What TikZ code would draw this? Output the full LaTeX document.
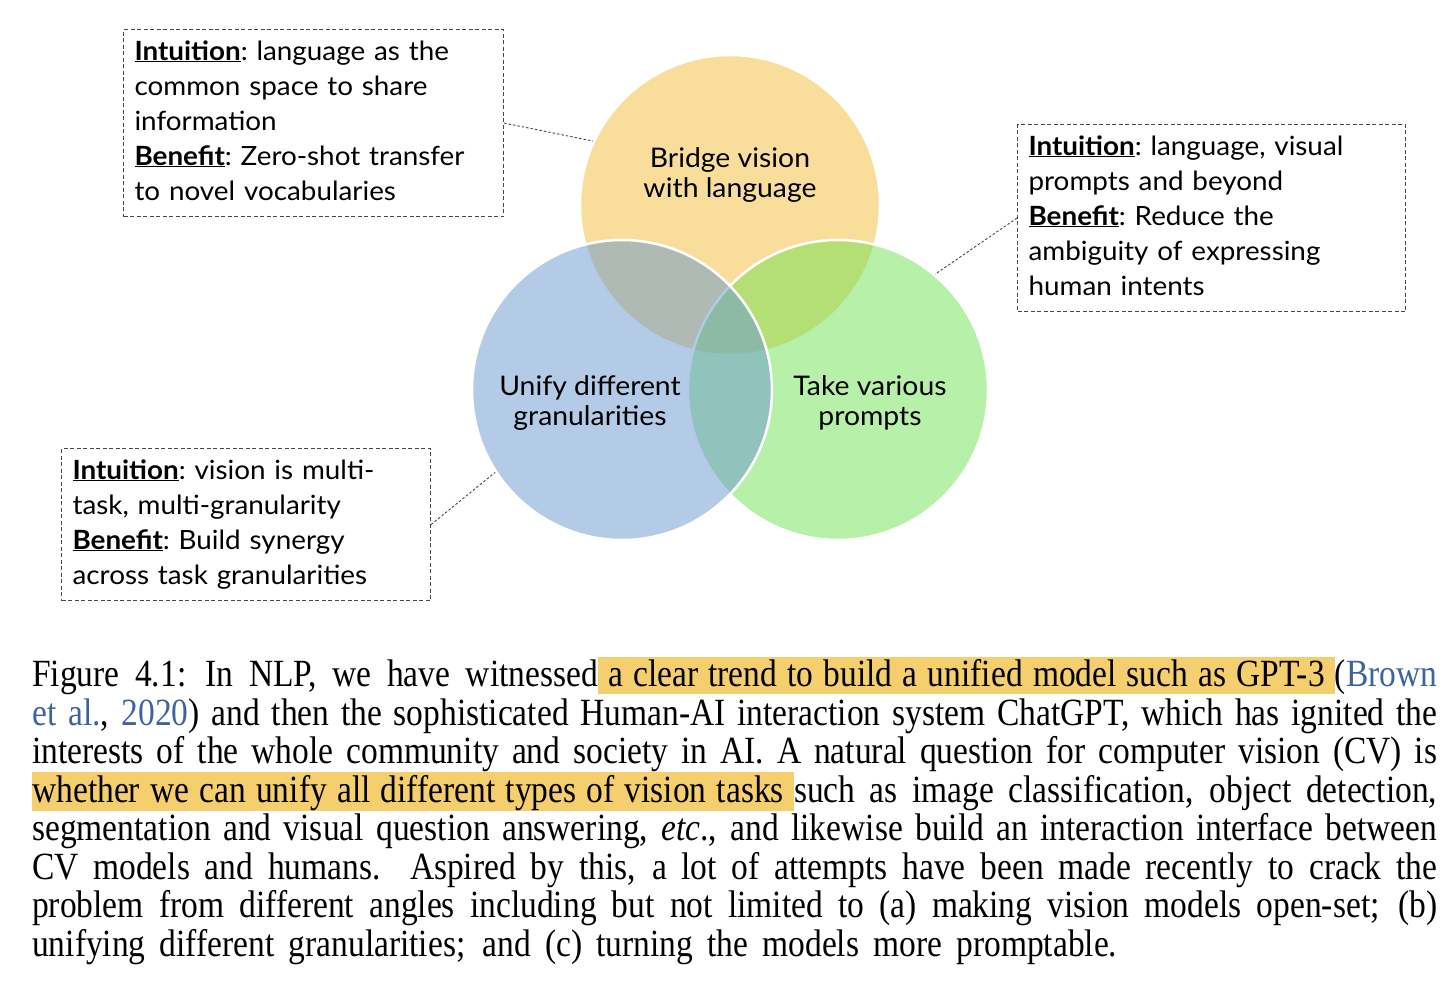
\documentclass[tikz,border=0pt]{standalone}
\usepackage{fontspec}
\setmainfont{Liberation Serif}
\newfontfamily\capfont[FakeStretch=0.87]{Liberation Serif}
\newfontfamily\diafont[FakeStretch=1.05]{Lato}
\definecolor{yel}{RGB}{249,222,155}
\definecolor{blu}{RGB}{105,151,207}
\definecolor{grn}{RGB}{111,225,81}
\definecolor{hl}{RGB}{245,206,110}
\definecolor{lnk}{RGB}{62,100,160}
\definecolor{dsh}{RGB}{70,70,70}
\newcommand{\hlbox}[1]{{\setlength{\fboxsep}{0pt}\spaceskip=0.265em\colorbox{hl}{\rule[-7pt]{0pt}{37pt}#1}}}
\newcommand{\keyw}[1]{\underline{\textbf{#1}}}
\newcommand{\fullline}[1]{\hbox to 1405pt{#1}}
\begin{document}
\begin{tikzpicture}[x=1pt,y=-1pt,
  vc/.style={circle, minimum size=300pt, inner sep=0pt, draw=white, line width=2.5pt, fill opacity=0.5, draw opacity=1},
  lbl/.style={font=\frenchspacing\diafont\fontsize{27}{30}\selectfont, align=center, inner sep=0pt},
  ibox/.style={draw=dsh, dash pattern=on 4pt off 2.5pt, line width=1.1pt, anchor=north west, align=left, inner xsep=11pt, inner ysep=6pt, font=\frenchspacing\diafont\fontsize{26.5}{35}\selectfont},
  conn/.style={draw=dsh, dash pattern=on 2.5pt off 2pt, line width=0.9pt}
]
\useasboundingbox (0,0) rectangle (1452,982);
% circles
\node[vc, fill=yel, fill opacity=1] (Y) at (730,205) {};
\node[vc, fill=grn] (G) at (838,390) {};
\node[vc, fill=blu] (B) at (622,390) {};
% labels
\node[lbl] (Yt) at (730,175) {Bridge vision\\with language};
\node[lbl] (Bt) at (590,403) {Unify different\\granularities};
\node[lbl] (Gt) at (870,403) {Take various\\prompts};
% boxes
\node[ibox, text width=358pt] (b1) at (123,29) {\strut\keyw{Intuition}: language as the\\common space to share\\information\\\keyw{Benefit}: Zero-shot transfer\\to novel vocabularies\strut};
\node[ibox, text width=366pt] (b2) at (1017,124) {\strut\keyw{Intuition}: language, visual\\prompts and beyond\\\keyw{Benefit}: Reduce the\\ambiguity of expressing\\human intents\strut};
\node[ibox, text width=347pt] (b3) at (61,448) {\strut\keyw{Intuition}: vision is multi-\\task, multi-granularity\\\keyw{Benefit}: Build synergy\\across task granularities\strut};
% connectors
\draw[conn] (b1.east) -- (Y.155);
\draw[conn] (b2.west) -- (G.50);
\draw[conn] (b3.east) -- (B.213);
% caption
\node[anchor=north west, inner sep=0pt, text width=1405pt, font=\capfont\fontsize{38.5}{38.5}\selectfont] (cap) at (32,656.7) {%
\lineskiplimit=-100pt\lineskip=0pt\parindent=0pt
\spaceskip=0.22em plus 0.25em minus 0.12em
\fullline{\rule{0pt}{30pt}Figure 4.1: In NLP, we have witnessed\hlbox{ a clear trend to build a unified model such as GPT-3 }(\textcolor{lnk}{Brown}}
\fullline{\textcolor{lnk}{et al.}, \textcolor{lnk}{2020}) and then the sophisticated Human-AI interaction system ChatGPT, which has ignited the}
\fullline{interests of the whole community and society in AI. A natural question for computer vision (CV) is}
\fullline{\hlbox{whether we can unify all different types of vision tasks }such as image classification, object detection,}
\fullline{segmentation and visual question answering, \textit{etc}., and likewise build an interaction interface between}
\fullline{CV models and humans.\ \ Aspired by this, a lot of attempts have been made recently to crack the}
\fullline{problem from different angles including but not limited to (a) making vision models open-set; (b)}
\hbox to 1085pt{unifying different granularities; and (c) turning the models more promptable.}
};
\end{tikzpicture}
\end{document}
